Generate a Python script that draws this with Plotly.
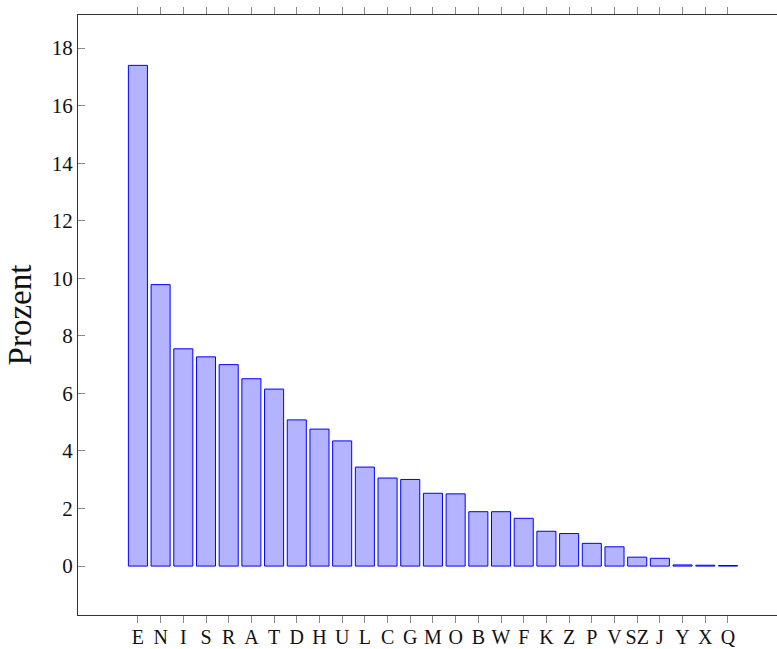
import plotly.graph_objects as go

letters = ["E", "N", "I", "S", "R", "A", "T", "D", "H", "U", "L", "C", "G", "M",
           "O", "B", "W", "F", "K", "Z", "P", "V", "SZ", "J", "Y", "X", "Q"]
percent = [17.40, 9.78, 7.55, 7.27, 7.00, 6.51, 6.15, 5.08, 4.76, 4.35, 3.44, 3.06,
           3.01, 2.53, 2.51, 1.89, 1.89, 1.66, 1.21, 1.13, 0.79, 0.67, 0.31, 0.27,
           0.04, 0.03, 0.02]
y_ticks = [0, 2, 4, 6, 8, 10, 12, 14, 16, 18]

font_family = "Liberation Serif, DejaVu Serif, serif"

fig = go.Figure(go.Bar(
    x=letters, y=percent, width=0.84,
    marker=dict(color="#b3b3ff", line=dict(color="#0000ff", width=1)),
))

fig.update_layout(
    width=777, height=649,
    margin=dict(l=78, r=0, t=15, b=34),
    plot_bgcolor="white", paper_bgcolor="white",
    showlegend=False,
    font=dict(family=font_family, color="#111", size=21),
    xaxis=dict(
        type="category", range=[-2.64, 28.16], automargin=False,
        tickmode="array", tickvals=letters, ticktext=letters,
        showline=True, linecolor="#333", linewidth=1, mirror="ticks",
        ticks="outside", ticklen=7, tickcolor="#888", tickwidth=1,
        ticklabelstandoff=-3,
        showgrid=False, zeroline=False,
        tickfont=dict(size=20, family=font_family, color="#111"),
    ),
    yaxis=dict(
        range=[-1.70, 19.15], tickvals=y_ticks, automargin=False,
        showline=True, linecolor="#333", linewidth=1, mirror=False,
        ticks="inside", ticklen=7, tickcolor="#888", tickwidth=1,
        showgrid=False, zeroline=False,
        tickfont=dict(size=21, family=font_family, color="#111"),
        title=dict(text="Prozent", font=dict(size=33, family=font_family, color="#111"), standoff=10),
    ),
)

fig.write_html("out.html")
